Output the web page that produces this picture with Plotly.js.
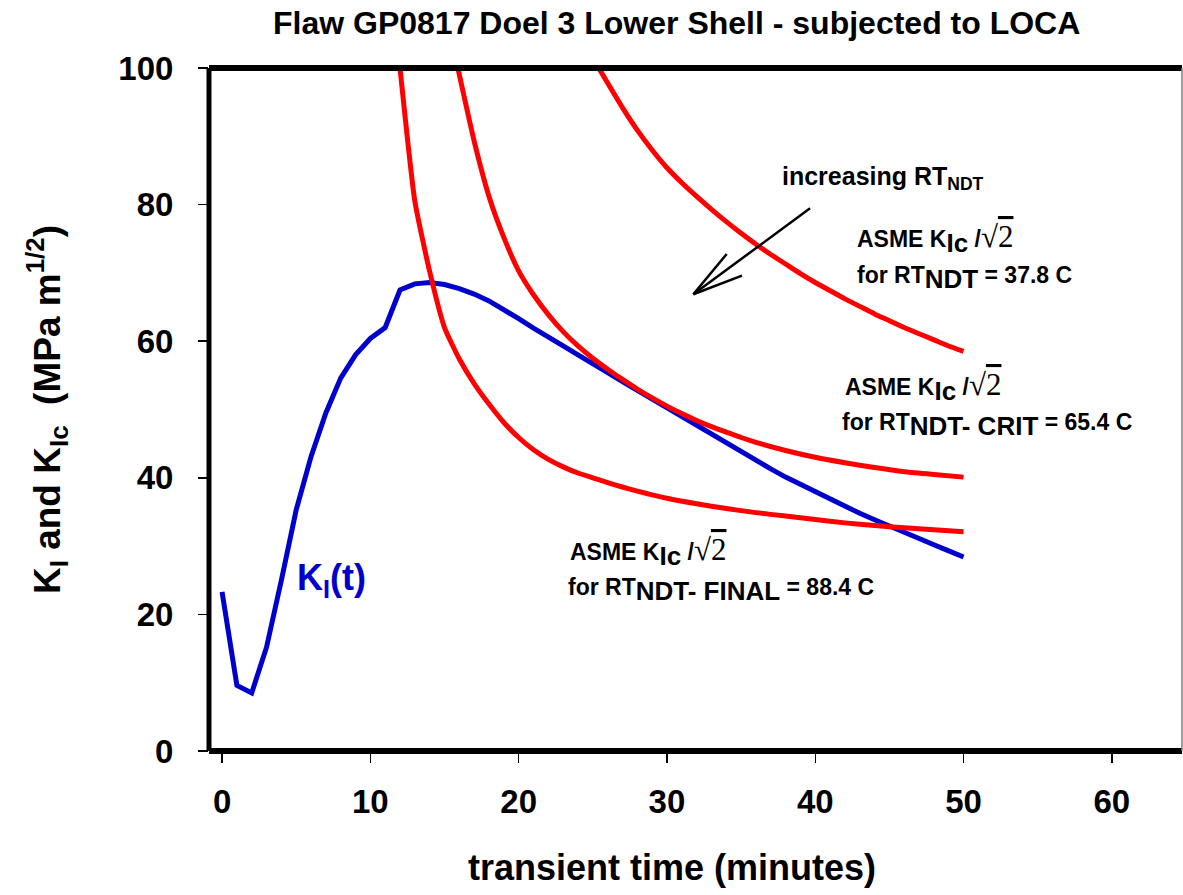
<!DOCTYPE html>
<html>
<head>
<meta charset="utf-8">
<script src="https://cdn.plot.ly/plotly-3.0.1.min.js"></script>
<style>html,body{margin:0;padding:0;background:#fff;}#chart{width:1183px;height:895px;}</style>
</head>
<body>
<div id="chart"></div>
<script>
// K_I(t) applied stress intensity
const tKI = [0,1,2,3,4,5,6,7,8,9,10,11,12,13,14,15,16,17,18,19,20,21,22,23,24,25,26,27,28,29,30,31,32,33,34,35,36,37,38,39,40,41,42,43,44,45,46,47,48,49,50];
const KI  = [23.3,9.6,8.5,15.2,25.0,35.3,43.1,49.5,54.6,58.0,60.4,62.0,67.5,68.4,68.6,68.3,67.7,66.9,65.9,64.7,63.3,61.9,60.5,59.3,58.0,56.8,55.4,54.1,52.8,51.5,50.2,48.9,47.6,46.3,45.0,43.75,42.5,41.3,40.1,39.0,37.9,36.8,35.8,34.8,33.85,32.9,32.0,31.1,30.2,29.3,28.4];

// ASME KIc/sqrt(2), RT_NDT-FINAL = 88.4 C
const tA = [12,13,14,15,16,17,18,19,20,21,22,23,24,25,26,27,28,29,30,32,34,36,38,40,42,44,46,48,50];
const KA = [100,80.5,70.2,62.0,57.4,53.8,50.8,48.1,45.9,44.1,42.7,41.6,40.7,40.0,39.3,38.65,38.05,37.5,37.0,36.2,35.5,34.9,34.4,33.9,33.4,33.0,32.7,32.4,32.1];

// ASME KIc/sqrt(2), RT_NDT-CRIT = 65.4 C
const tB = [15.9,17,18,19,20,21,22,23,24,25,26,27,28,29,30,31,32,33,34,35,36,38,40,42,44,46,48,50];
const KB = [100,89.3,81.2,75.2,70.3,66.8,63.9,61.4,59.3,57.5,55.9,54.4,53.0,51.7,50.5,49.4,48.4,47.5,46.7,45.9,45.2,44.0,43.0,42.2,41.5,40.9,40.5,40.1];

// ASME KIc/sqrt(2), RT_NDT = 37.8 C
const tC = [25.4,26,27,28,29,30,31,32,33,34,35,36,37,38,39,40,41,42,43,44,45,46,47,48,49,50];
const KC = [100,97.8,94.2,90.9,88.0,85.4,83.2,81.2,79.3,77.5,75.8,74.2,72.7,71.3,69.9,68.6,67.4,66.2,65.1,64.0,63.0,62.0,61.1,60.2,59.3,58.5];

const xTicks = [0,10,20,30,40,50,60];
const yTicks = [0,20,40,60,80,100];

const FONT = "'Liberation Sans', Arial, sans-serif";
const SQ = "<span style=\"font-family:'Liberation Serif',serif;font-weight:normal;font-size:31px\">√<span style=\"text-decoration:overline\">2</span></span>";
const BIG = s => "<sub><span style=\"font-size:26px\">" + s + "</span></sub>";
const KIC = "<b>ASME K<sub><span style=\"font-size:26px\">Ic</span></sub> /</b>" + SQ;

const red = {color:'#FF0000', width:5, shape:'spline', smoothing:0.5};
const traces = [
  {x:tKI, y:KI, mode:'lines', line:{color:'#0000CC', width:5}, hoverinfo:'skip'},
  {x:tA, y:KA, mode:'lines', line:red, hoverinfo:'skip'},
  {x:tB, y:KB, mode:'lines', line:red, hoverinfo:'skip'},
  {x:tC, y:KC, mode:'lines', line:red, hoverinfo:'skip'}
];

function ann(x, y, text, size, color) {
  return {x:x, y:y, xref:'x', yref:'y', text:text, showarrow:false, xanchor:'left', yanchor:'middle',
          font:{family:FONT, size:size, color:color||'#000'}};
}
const annotations = [
  ann(37.6, 83.9, "<b>increasing RT<sub>NDT</sub></b>", 25),
  ann(42.7, 75.0, KIC, 23),
  ann(42.7, 69.3, "<b>for RT" + BIG("NDT") + " = 37.8 C</b>", 23),
  ann(41.9, 53.3, KIC, 23),
  ann(41.7, 47.7, "<b>for RT" + BIG("NDT- CRIT") + " = 65.4 C</b>", 23),
  ann(23.3, 29.2, KIC, 23),
  ann(23.2, 23.6, "<b>for RT" + BIG("NDT- FINAL") + " = 88.4 C</b>", 23),
  ann(4.9, 25.0, "<b>K<sub>I</sub>(t)</b>", 36, '#0000CC'),
  {x:0.476, y:-0.171, xref:'paper', yref:'paper', xanchor:'center', yanchor:'middle', showarrow:false,
   text:'<b>transient time (minutes)</b>', font:{family:FONT, size:36, color:'#000'}}
];

const shapes = [
  {type:'line', xref:'paper', yref:'paper', x0:0, x1:1, y0:1, y1:1, line:{color:'#000', width:6}, layer:'above'},
  {type:'line', xref:'paper', yref:'paper', x0:0, x1:1, y0:0, y1:0, line:{color:'#000', width:6}, layer:'above'},
  {type:'line', xref:'paper', yref:'paper', x0:0, x1:0, y0:0, y1:1, line:{color:'#000', width:5}, layer:'above'},
  {type:'line', xref:'paper', yref:'paper', x0:1, x1:1, y0:0, y1:1, line:{color:'#808080', width:1.5}, layer:'above'},
  {type:'line', xref:'x', yref:'y', x0:39.65, y0:79.46, x1:31.78, y1:66.87, line:{color:'#000', width:2.5}},
  {type:'line', xref:'x', yref:'y', x0:34.03, y0:72.77, x1:31.78, y1:66.87, line:{color:'#000', width:2.5}},
  {type:'line', xref:'x', yref:'y', x0:35.06, y0:69.59, x1:31.78, y1:66.87, line:{color:'#000', width:2.5}}
];

const layout = {
  width:1183, height:895,
  margin:{l:209, r:1, t:68, b:144, pad:0},
  paper_bgcolor:'#fff', plot_bgcolor:'#fff',
  showlegend:false,
  font:{family:FONT, color:'#000'},
  title:{text:'<b>Flaw GP0817 Doel 3 Lower Shell - subjected to LOCA</b>', x:0.572, xanchor:'center', y:0.975, yanchor:'middle',
         font:{family:FONT, size:32, color:'#000'}},
  xaxis:{range:[-0.88, 64.73], tickvals:xTicks, ticktext:xTicks.map(v=>'<b>'+v+'</b>'),
         showgrid:false, zeroline:false, showline:false,
         ticks:'outside', ticklen:11, tickwidth:1.5, tickcolor:'#000',
         tickfont:{family:FONT, size:33, color:'#000'}, ticklabelstandoff:10},
  yaxis:{range:[0,100], tickvals:yTicks, ticktext:yTicks.map(v=>'<b>'+v+'</b>'),
         showgrid:false, zeroline:false, showline:false,
         ticks:'outside', ticklen:10, tickwidth:1.5, tickcolor:'#000',
         tickfont:{family:FONT, size:33, color:'#000'}, ticklabelstandoff:18,
         title:{text:'<b>K<sub>I</sub> and K<sub>Ic</sub>  (MPa m<sup>1/2</sup>)</b>', font:{family:FONT, size:37, color:'#000'}, standoff:46}},
  shapes:shapes,
  annotations:annotations
};

Plotly.newPlot('chart', traces, layout, {staticPlot:true, displayModeBar:false});
</script>
</body>
</html>
